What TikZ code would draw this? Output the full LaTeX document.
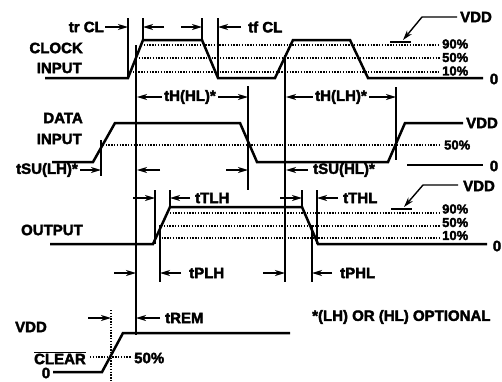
\documentclass[tikz,border=0pt]{standalone}
\usepackage{fontspec}
\setmainfont{Liberation Sans}
\newfontfamily\heavyfont{Liberation Sans Bold}[FakeBold=2.5]
\usetikzlibrary{arrows.meta}
\begin{document}
\begin{tikzpicture}[x=1pt,y=-1pt,
  sig/.style={line width=2.5pt, line join=miter},
  vl/.style={line width=1.4pt},
  dotl/.style={line width=1.3pt, dash pattern=on 1.4pt off 1.4pt},
  dimarrow/.style={line width=1.2pt, -{Stealth[length=10pt,width=6pt,inset=3pt]}},
  lbl/.style={font=\heavyfont\fontsize{15}{15}\selectfont, inner sep=0pt},
  pct/.style={font=\heavyfont\fontsize{13}{13}\selectfont, inner sep=0pt, anchor=west}]
\useasboundingbox (0,0) rectangle (502,381);

% ---------------- CLOCK INPUT ----------------
\node[lbl, anchor=east] (clk1) at (83,48) {CLOCK};
\node[lbl, anchor=east] (clk2) at (82,68) {INPUT};
\draw[dotl] (141,45) -- (440,45);
\draw[dotl] (136,58) -- (440,58);
\draw[dotl] (130,72) -- (440,72);
\draw[sig] (45,78) -- (128,78) -- (143,40) -- (202,40) -- (218,78) -- (275,78)
  -- (293,40) -- (350,40) -- (368,78) -- (483,78);
\node[lbl] (c0) at (494,79) {0};
\node[pct] (c90) at (442,44) {90\%};
\node[pct] (c50) at (442,57.5) {50\%};
\node[pct] (c10) at (442,71) {10\%};
\node[lbl, anchor=west] (cvdd) at (460,17) {VDD};
\draw[vl] (390,42) -- (411,42);
\draw[vl, -{Stealth[length=10pt,width=6pt,inset=3pt]}] (457,17) -- (422,17) -- (403,40);

% clock timing verticals
\draw[vl] (128,18) -- (128,78);
\draw[vl] (143,18) -- (143,40);
\draw[vl] (202,18) -- (202,40);
\draw[vl] (218,18) -- (218,78);
\coordinate (m1) at (136,45);
\coordinate (m1b) at (136,335);
\draw[vl] (m1) -- (m1b);
\draw[vl] (285,55) -- (285,282);

\node[lbl, anchor=east] (trcl) at (104,27) {tr CL};
\draw[dimarrow] (105,27) -- (128,27);
\draw[dimarrow] (164,27) -- (143,27);
\draw[dimarrow] (181,27) -- (202,27);
\draw[dimarrow] (241,27) -- (218,27);
\node[lbl, anchor=west] (tfcl) at (248,27) {tf CL};

% hold times
\node[lbl] (thhl) at (190,97) {tH(HL)*};
\draw[dimarrow] (thhl.west) ++(-2,0) -- (137,97);
\draw[dimarrow] (thhl.east) ++(2,0) -- (248,97);
\draw[vl] (248,86) -- (248,190);
\node[lbl] (thlh) at (341,97) {tH(LH)*};
\draw[dimarrow] (thlh.west) ++(-2,0) -- (286,97);
\draw[dimarrow] (thlh.east) ++(2,0) -- (396,97);
\draw[vl] (396,87) -- (396,160);

% ---------------- DATA INPUT ----------------
\node[lbl, anchor=east] (dat1) at (83,118) {DATA};
\node[lbl, anchor=east] (dat2) at (82,139) {INPUT};
\draw[dotl] (100,145) -- (440,145);
\draw[sig] (52,162) -- (93,162) -- (115,123) -- (240,123) -- (257,162) -- (388,162)
  -- (405,123) -- (463,123);
\node[lbl, anchor=west] (dvdd) at (466,123) {VDD};
\node[pct] (d50) at (444,145) {50\%};
\draw[vl] (407,165) -- (483,165);
\node[lbl] (d0) at (494,166) {0};

% setup times
\draw[vl] (101,140) -- (101,176);
\node[lbl, anchor=east] (tsulh) at (78,170) {tSU(LH)*};
\draw[dimarrow] (80,170) -- (101,170);
\draw[dimarrow] (160,170) -- (137,170);
\draw[dimarrow] (226,170) -- (248,170);
\draw[dimarrow] (308,170) -- (286,170);
\node[lbl, anchor=west] (tsuhl) at (313,170) {tSU(HL)*};

% ---------------- OUTPUT ----------------
\node[lbl, anchor=east] (out) at (83,230) {OUTPUT};
\draw[dotl] (167,213) -- (440,213);
\draw[dotl] (161,226) -- (440,226);
\draw[dotl] (156,238) -- (440,238);
\draw[sig] (50,244) -- (153,244) -- (170,207) -- (302,207) -- (318,244) -- (487,244);
\node[lbl] (o0) at (497,246) {0};
\node[pct] (o90) at (442,209) {90\%};
\node[pct] (o50) at (442,222.5) {50\%};
\node[pct] (o10) at (442,235.5) {10\%};
\node[lbl, anchor=west] (ovdd) at (463,186) {VDD};
\draw[vl] (391,209) -- (412,209);
\draw[vl, -{Stealth[length=10pt,width=6pt,inset=3pt]}] (458,185) -- (423,185) -- (404,207);

% transition times
\draw[vl] (155,190) -- (155,244);
\draw[vl] (170,190) -- (170,207);
\draw[dimarrow] (133,198) -- (155,198);
\draw[dimarrow] (190,198) -- (170,198);
\node[lbl, anchor=west] (ttlh) at (195,198) {tTLH};
\draw[vl] (302,190) -- (302,207);
\draw[vl] (317,190) -- (317,244);
\draw[dimarrow] (280,198) -- (302,198);
\draw[dimarrow] (338,198) -- (317,198);
\node[lbl, anchor=west] (tthl) at (343,198) {tTHL};

% propagation delays
\draw[vl] (160,225) -- (160,282);
\draw[dimarrow] (114,273) -- (136,273);
\draw[dimarrow] (181,273) -- (160,273);
\node[lbl, anchor=west] (tplh) at (189,273) {tPLH};
\draw[vl] (312,225) -- (312,282);
\draw[dimarrow] (263,273) -- (285,273);
\draw[dimarrow] (332,273) -- (312,273);
\node[lbl, anchor=west] (tphl) at (340,273) {tPHL};

% ---------------- CLEAR ----------------
\node[lbl] (clvdd) at (31,327) {VDD};
\node[lbl, anchor=east] (clr) at (86,358) {$\overline{\mbox{CLEAR}}$};
\node[lbl] (cl0) at (46,373) {0};
\draw[dotl] (90,357) -- (131,357);
\node[lbl, anchor=west] (cl50) at (134,358) {50\%};
\draw[dotl] (111,310) -- (111,381);
\draw[sig] (53,372) -- (102,372) -- (123,333) -- (290,333);
\draw[dimarrow] (88,318) -- (111,318);
\draw[dimarrow] (160,318) -- (136,318);
\node[lbl, anchor=west] (trem) at (165,318) {tREM};

\node[lbl, anchor=west] (note) at (312,317) {*(LH) OR (HL) OPTIONAL};
\end{tikzpicture}
\end{document}
